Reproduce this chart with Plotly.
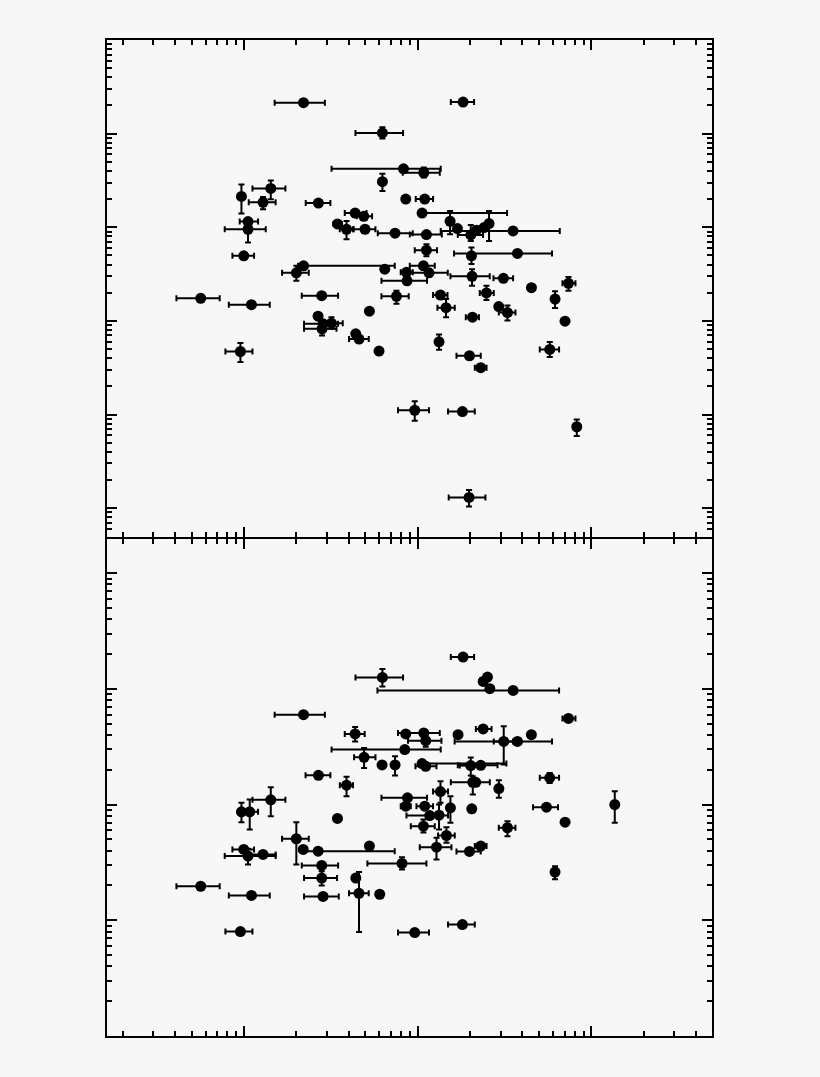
import numpy as np
import plotly.graph_objects as go

# ---------------- top panel data ----------------
top_x = [2.20, 18.24, 6.26, 8.28, 10.83, 6.26, 0.966, 1.425, 1.286, 2.68, 8.53, 10.97, 4.36, 4.89,
         3.45, 3.89, 4.97, 7.40, 11.22, 1.054, 1.054, 0.996, 2.20, 2.00, 6.46, 8.61, 10.78, 11.61,
         8.68, 10.59, 15.35, 16.93, 20.19, 21.77, 24.08, 25.73, 35.38, 20.38, 37.5, 11.22, 20.54,
         31.13, 45.14, 73.74, 7.54, 13.51, 14.55, 24.86, 29.27, 32.85, 61.72, 70.47, 20.65, 13.26,
         19.85, 23.05, 57.54, 9.61, 18.08, 82.3, 19.74, 0.563, 1.103, 2.80, 5.27, 2.667, 2.85,
         3.186, 2.812, 4.396, 4.592, 5.985, 0.953]
top_xlo = [1.50, 15.5, 4.38, 3.19, 8.20, None, None, 1.118, 1.064, 2.265, None, 9.74, 3.80, 4.455,
           3.28, 3.556, 4.242, 5.886, 9.0, 0.944, 0.774, 0.857, 2.046, 1.655, None, 7.98, 9.0, 8.645,
           6.18, 10.4, None, None, 17.0, None, None, None, 13.56, None, 16.18, 9.61, 15.42,
           27.28, None, 68.08, 6.18, 12.25, 12.98, 22.75, None, 29.27, None, None, 18.9, None,
           16.71, 21.3, 50.4, 7.70, 14.94, None, 15.07, 0.408, 0.817, 2.149, None, None, 2.215,
           2.915, 2.215, None, 4.022, None, 0.781]
top_xhi = [2.92, 21.1, 8.23, 13.56, 13.39, None, None, 1.73, 1.52, 3.14, None, 12.25, 5.07, 5.457,
           3.65, 4.28, 5.706, 9.36, 13.75, 1.204, 1.333, 1.142, 7.373, 2.358, None, 9.36, 12.53, 14.89,
           11.31, 32.67, None, None, 23.77, None, None, None, 65.7, None, 59.3, 12.91, 25.97,
           35.38, None, 80.9, 8.87, 14.83, 16.33, 27.39, None, 36.52, None, None, 22.5, None,
           23.05, 24.9, 65.1, 11.61, 21.29, None, 24.53, 0.724, 1.406, 3.477, None, None, 3.477,
           3.70, 3.404, None, 5.224, None, 1.118]
top_y = [21380, 21730, 10170, 4212, 3819, 3063, 2136, 2600, 1845, 1814, 2000, 2000, 1419, 1309,
         1084, 952, 952, 864, 836, 1150, 952, 495, 387, 326, 357, 330, 387, 326,
         268, 1419, 1159, 969, 828, 929, 993, 1095, 914, 495, 525, 569, 299,
         285, 226, 252, 183, 189, 138.5, 199, 142, 122.5, 171, 99.3, 109.5, 59.8,
         42.4, 31.6, 49.5, 11.1, 10.76, 7.40, 1.30, 174, 149, 186, 127, 112.2, 92.9,
         94.5, 82.2, 72.7, 63.9, 47.6, 47.1]
top_ylo = [None, None, 8850, None, 3404, 2433, 1399, 1986, 1554, None, None, None, None, None,
           None, 745, None, None, None, None, 688, None, None, 268, None, None, None, None,
           None, None, 842, None, 715, None, None, 715, None, 404, None, 491, 237,
           None, None, 210, 152, None, 109.5, 167, None, 100.7, 137.5, None, None, 49.1,
           None, None, 41.1, 8.57, None, 5.88, 1.04, None, None, None, None, None, None,
           82.2, 69.8, None, None, None, 36.4]
top_yhi = [None, None, 11670, None, 4350, 3726, 2867, 3162, 2101, None, None, None, None, None,
           None, 1167, None, None, None, None, 1150, None, None, 387, None, None, None, None,
           None, None, 1490, None, 1058, None, None, 1490, None, 608, None, 659, 357,
           None, None, 294, 210, None, 171, 237, None, 145.5, 207, None, None, 71.5,
           None, None, 59.3, 13.85, None, 8.85, 1.566, None, None, None, None, None, None,
           109.5, 92.9, None, None, None, 57.9]

# ---------------- bottom panel data ----------------
bot_x = [6.26, 35.4, 26.0, 23.8, 25.2, 18.24, 2.20, 4.36, 8.53, 10.83, 11.12, 8.42, 4.91, 6.23,
         7.40, 10.59, 11.12, 20.19, 23.05, 31.26, 37.5, 45.1, 17.06, 23.8, 73.7, 20.74, 21.57,
         29.3, 57.5, 13.51, 8.73, 8.53, 10.97, 15.42, 20.46, 55.1, 136.2, 11.72, 13.26, 10.78,
         14.63, 12.82, 19.85, 23.05, 32.85, 70.5, 61.7, 8.12, 9.61, 18.08, 2.68, 3.89, 1.425,
         0.966, 1.078, 3.45, 2.00, 2.19, 2.67, 5.27, 0.996, 1.054, 1.286, 2.80, 2.80, 2.85,
         4.40, 4.59, 6.04, 0.563, 1.103, 0.953]
bot_xlo = [4.38, 5.86, None, None, None, 15.5, 1.50, 3.80, None, 7.70, 8.79, 3.19, 4.30, None,
           None, 10.3, 9.70, 17.45, 17.0, 27.4, 16.3, None, None, 21.6, 68.1, 15.5, None,
           None, 50.4, 12.25, 6.18, 7.98, 9.83, None, None, 46.1, None, 8.61, None, 9.12,
           13.09, 10.27, 16.71, 21.3, 29.27, None, None, 5.13, 7.70, 14.94, 2.26, 3.56, 1.118,
           None, 0.966, None, 1.655, None, 2.24, None, 0.857, 0.774, 1.064, 2.15, 2.215, 2.215,
           None, 4.02, None, 0.408, 0.817, 0.781]
bot_xhi = [8.23, 65.1, None, None, None, 21.1, 2.92, 4.95, None, 13.39, 13.69, 13.56, 5.71, None,
           None, 32.4, 12.82, 22.75, 28.8, 35.4, 59.3, None, None, 26.6, 80.9, 26.0, None,
           None, 65.1, 14.94, 11.31, 9.12, 12.25, None, None, 64.2, None, 14.94, None, 12.53,
           16.33, 15.63, 23.05, 24.9, 36.5, None, None, 11.22, 11.61, 21.29, 3.14, 4.24, 1.73,
           None, 1.204, None, 2.358, None, 7.37, None, 1.142, 1.52, 1.52, 3.48, 3.43, 3.51,
           None, 5.22, None, 0.724, 1.406, 1.118]
bot_y = [1257, 971, 1004, 1160, 1267, 1884, 599, 408, 408, 416, 357, 299, 256.5, 220.5,
         220.5, 226.2, 214.5, 217.5, 218.8, 352, 352, 402.5, 402.5, 451, 556, 156.1, 156,
         137.7, 170.3, 129.7, 114.5, 96.9, 96.9, 93.8, 92.0, 95.0, 100.2, 80.5, 81.0, 65.1,
         54.1, 42.9, 39.4, 43.8, 63.1, 70.5, 26.1, 31.0, 7.83, 9.18, 179.3, 147.1, 110.0,
         86.7, 86.7, 75.9, 50.7, 41.0, 39.6, 43.8, 41.0, 35.9, 37.1, 29.8, 23.2, 16.1,
         23.2, 17.1, 16.8, 19.7, 16.4, 7.99]
bot_ylo = [1051, None, None, None, 1200, None, None, 352, None, None, 317, None, 207.7, None,
           178.2, None, None, 178.2, None, 221.8, None, None, None, None, None, 122.2, None,
           114.5, 154, 103.6, None, None, None, 69.7, None, None, 69.7, None, 61.0, 57.4,
           46.8, 33.6, None, None, 53.4, None, 22.6, 27.5, None, None, None, 118.2, 79.4,
           70.5, 61.0, None, 30.4, None, None, None, None, 30.4, None, None, 20.0, None,
           None, 7.93, None, None, None, None]
bot_yhi = [1485, None, None, None, 1340, None, None, 469, None, None, 402.5, None, 309, None,
           261.7, None, None, 255, None, 475, None, None, None, None, None, 175.8, None,
           162.4, 188, 159.2, None, None, None, 118.2, None, None, 130.5, None, 100.2, 74.4,
           63.8, 51.7, None, None, 71.9, None, 29.4, 35.0, None, None, None, 173.8, 141.3,
           103.6, 110.7, None, 70.5, None, None, None, None, 41.6, None, None, 26.6, None,
           None, 26.1, None, None, None, None]

# decades for ticks
x_major = [0.1, 1, 10, 100, 1000]
top_y_major = [0.1, 1, 10, 100, 1000, 10000, 100000]
bot_y_major = [1, 10, 100, 1000, 10000, 100000]


def errs(v, lo, hi):
    v = np.array(v, dtype=float)
    lo = np.array([np.nan if a is None else a for a in lo], dtype=float)
    hi = np.array([np.nan if a is None else a for a in hi], dtype=float)
    return hi - v, v - lo


def minors(majors):
    return [m * k for m in majors for k in range(2, 10)]


BG = "#f7f7f7"
fig = go.Figure()

for (xv, xl, xh, yv, yl, yh, ya) in [
    (top_x, top_xlo, top_xhi, top_y, top_ylo, top_yhi, "y"),
    (bot_x, bot_xlo, bot_xhi, bot_y, bot_ylo, bot_yhi, "y2"),
]:
    exp, exm = errs(xv, xl, xh)
    eyp, eym = errs(yv, yl, yh)
    fig.add_trace(go.Scatter(
        x=np.array(xv, dtype=float), y=np.array(yv, dtype=float),
        xaxis="x" if ya == "y" else "x2", yaxis=ya,
        mode="markers",
        marker=dict(color="black", size=11, symbol="circle"),
        error_x=dict(type="data", symmetric=False, array=exp, arrayminus=exm,
                     color="black", thickness=2, width=3),
        error_y=dict(type="data", symmetric=False, array=eyp, arrayminus=eym,
                     color="black", thickness=2, width=3),
        showlegend=False, hoverinfo="skip",
    ))

common_axis = dict(type="log", showgrid=False, zeroline=False, showline=True,
                   linecolor="black", linewidth=1.5, mirror="allticks",
                   ticks="inside", ticklen=10, tickwidth=2, tickcolor="black",
                   showticklabels=False)
minor_style = dict(ticks="inside", ticklen=5, tickwidth=2, tickcolor="black")

fig.update_layout(
    width=820, height=1077,
    margin=dict(l=107, r=108, t=40, b=41),
    paper_bgcolor=BG, plot_bgcolor=BG,
    xaxis=dict(common_axis, range=[-0.789, 2.694], anchor="y", domain=[0, 1],
               tickmode="array", tickvals=x_major,
               minor=dict(minor_style, tickmode="array", tickvals=minors(x_major))),
    yaxis=dict(common_axis, range=[-0.3085, 5.0], domain=[0.501, 1], anchor="x",
               tickmode="array", tickvals=top_y_major,
               minor=dict(minor_style, tickmode="array", tickvals=minors(top_y_major))),
    xaxis2=dict(common_axis, range=[-0.789, 2.694], anchor="y2", domain=[0, 1],
                tickmode="array", tickvals=x_major,
                minor=dict(minor_style, tickmode="array", tickvals=minors(x_major))),
    yaxis2=dict(common_axis, range=[0, 4.296], domain=[0, 0.499], anchor="x2",
                tickmode="array", tickvals=bot_y_major,
                minor=dict(minor_style, tickmode="array", tickvals=minors(bot_y_major))),
)

fig.write_html(
    "out.html",
    config={"displayModeBar": False},
    post_script="document.body.style.margin='0';document.body.style.background='" + BG + "';",
)
